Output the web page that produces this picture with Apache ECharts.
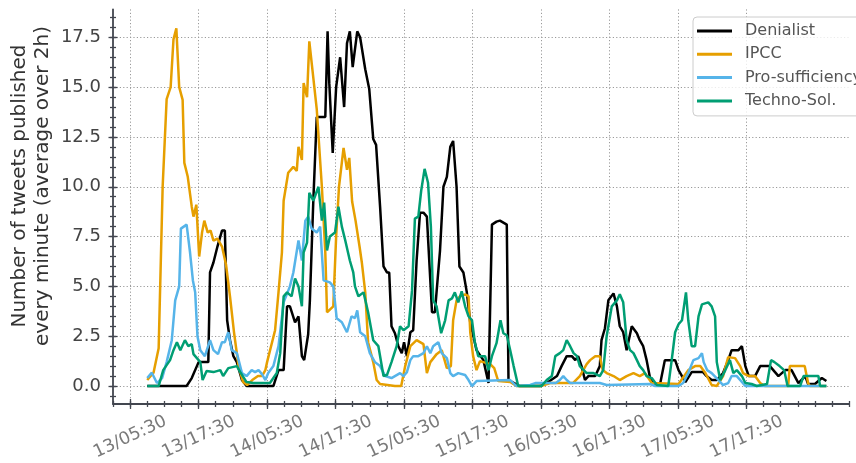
<!DOCTYPE html>
<html>
<head>
<meta charset="utf-8">
<script src="https://cdn.jsdelivr.net/npm/echarts@6/dist/echarts.min.js"></script>
<style>
html, body { margin: 0; padding: 0; background: #fff; }
#main { width: 856px; height: 463px; }
</style>
</head>
<body>
<div id="main"></div>
<script>
// x = hours after 13/05:30, y = tweets per minute (2h average)
var seriesNames = ['Denialist', 'IPCC', 'Pro-sufficiency', 'Techno-Sol.'];
var seriesColors = ['#000000', '#E69F00', '#56B4E9', '#009E73'];

var xMajorTicks = [0, 12, 24, 36, 48, 60, 72, 84, 96, 108];
var xTickLabels = ['13/05:30', '13/17:30', '14/05:30', '14/17:30', '15/05:30',
                   '15/17:30', '16/05:30', '16/17:30', '17/05:30', '17/17:30'];
var yMajorTicks = [0, 2.5, 5, 7.5, 10, 12.5, 15, 17.5];

var denialist = [
  [3,0],[9.9,0],[10.8,0.4],[12.0,1.2],[13.7,1.2],[14.0,5.7],[14.6,6.2],[15.3,7.0],[16.1,7.8],[16.6,7.8],
  [17.0,3.3],[17.5,2.3],[18.1,1.5],[18.7,1.2],[19.6,0.3],[20.4,0],[25.1,0],[26.0,0.8],[26.9,0.8],[27.5,4.0],
  [28.0,4.0],[28.9,3.2],[29.5,3.5],[30.1,1.5],[30.5,1.3],[31.2,2.6],[31.5,4.3],[32.1,9.3],[32.7,13.5],[34.2,13.5],
  [34.6,17.8],[34.9,15.2],[35.5,11.7],[36.1,15.0],[36.8,16.5],[37.5,14.0],[38.0,17.2],[38.5,17.8],[39.0,16.0],[39.8,17.8],
  [40.3,17.5],[41.2,15.9],[41.9,14.9],[42.6,12.4],[43.1,12.1],[43.8,9.0],[44.4,6.0],[45.0,5.7],[45.4,5.7],[45.8,3.0],
  [46.4,2.65],[47.0,2.0],[47.6,1.65],[48.0,2.2],[48.5,1.5],[49.1,2.7],[49.6,2.8],[50.2,6.3],[50.8,8.7],[51.4,8.7],
  [52.0,8.5],[52.9,3.7],[53.4,3.7],[54.3,6.8],[54.9,10.0],[55.5,10.5],[56.1,12.0],[56.6,12.3],[57.2,10.0],[57.7,6.0],
  [58.4,5.7],[59.0,4.7],[59.6,3.2],[60.7,1.8],[61.9,1.3],[62.8,0.15],[63.4,8.1],[64.2,8.25],[64.8,8.3],[66.0,8.1],
  [66.3,0.3],[67.6,0.1],[68.3,0],[71.8,0],[73.0,0.15],[74.8,0.5],[75.6,1.0],[76.5,1.5],[77.4,1.5],[78.0,1.3],
  [78.5,1.5],[79.1,1.0],[79.7,0.3],[80.3,0.5],[81.5,0.5],[82.3,1.0],[82.6,2.3],[83.2,2.9],[83.8,4.3],[84.7,4.65],
  [85.3,4.0],[85.8,3.0],[86.4,2.7],[87.0,1.8],[87.9,3.0],[88.8,2.65],[89.3,2.3],[89.9,2.0],[90.5,1.3],[91.1,0.4],
  [92.0,0.05],[92.9,0.15],[93.7,1.3],[95.5,1.3],[96.1,0.8],[97.3,0.2],[98.4,0.7],[100.4,0.7],[101.0,0.5],[101.9,0.3],
  [102.8,0.3],[103.9,0.65],[104.8,1.3],[105.4,1.8],[106.6,1.8],[107.2,2.0],[107.8,1.0],[108.4,0.5],[109.5,0.5],[110.4,1.0],
  [112.1,1.0],[113.0,0.7],[113.6,0.5],[114.8,0.8],[115.9,0.8],[117.1,0.15],[118.3,0.5],[118.8,0.1],[120.0,0.1],[121.2,0.4],
  [122.0,0.25]
];

var ipcc = [
  [3,0.3],[4.1,0.67],[5.0,1.9],[5.7,10.0],[6.4,14.4],[7.1,15.0],[7.6,17.4],[8.1,17.95],[8.6,15.0],[9.2,14.36],
  [9.5,11.2],[10.1,10.5],[10.8,9.0],[11.1,8.5],[11.6,9.1],[12.1,6.5],[12.6,7.7],[13.0,8.3],[13.6,7.7],[14.1,7.8],
  [14.6,7.3],[15.3,7.4],[16.1,7.0],[16.8,6.1],[17.5,4.5],[18.2,2.7],[19.0,1.0],[19.8,0.2],[20.5,0.05],[21.4,0.3],
  [22.4,0.5],[23.1,0.5],[23.7,0.8],[24.0,1.2],[25.4,2.8],[26.0,4.7],[26.6,6.7],[26.9,9.3],[27.7,10.7],[28.6,11.0],
  [29.2,10.8],[29.5,12.0],[30.1,11.35],[30.4,15.2],[31.0,14.5],[31.4,17.3],[32.7,13.9],[33.6,10.0],[34.2,6.7],[34.5,3.7],
  [35.6,4.0],[36.1,7.5],[36.6,10.0],[37.4,11.95],[38.0,10.85],[38.4,11.45],[38.9,9.26],[39.5,8.3],[40.2,7.0],[40.6,6.2],
  [41.2,4.7],[41.7,2.2],[42.6,1.2],[43.2,0.3],[43.8,0.1],[46.4,0],[47.5,0],[48.2,1.0],[49.1,2.0],[50.2,2.3],
  [51.4,2.1],[52.0,0.65],[52.6,1.2],[53.7,1.6],[54.6,1.8],[55.5,0.9],[56.2,1.0],[56.6,3.3],[57.2,4.3],[57.8,4.5],
  [58.7,4.6],[59.3,4.5],[59.6,2.7],[60.1,1.5],[60.7,0.8],[61.3,1.25],[61.9,1.2],[63.1,1.1],[63.8,0.9],[64.5,0.25],
  [66.6,0.2],[67.7,0],[72.0,0],[73.6,0.15],[77.6,0.15],[78.8,0.5],[80.0,1.1],[80.6,1.3],[81.5,1.5],[82.3,1.5],
  [82.8,0.8],[83.5,0.65],[84.7,0.5],[85.8,0.3],[87.0,0.5],[88.2,0.65],[89.3,0.5],[90.2,0.65],[91.4,0.15],[96.1,0.1],
  [97.8,0.8],[99.0,1.0],[99.9,1.0],[100.8,0.65],[101.9,0.05],[102.8,0],[103.9,0.5],[104.8,1.45],[106.0,1.4],[106.9,1.0],
  [107.4,0.65],[108.4,0.5],[109.5,0.5],[110.4,0.15],[111.2,0],[115.3,0],[115.6,1.0],[118.2,1.0],[118.8,0.15],[119.1,0],
  [122.0,0]
];

var proSufficiency = [
  [3,0.4],[3.8,0.67],[4.7,0.15],[5.6,0.4],[6.4,1.2],[7.3,2.3],[7.9,4.3],[8.6,5.0],[8.9,7.9],[9.9,8.1],
  [10.5,6.7],[11.0,5.3],[11.4,4.7],[11.8,2.5],[12.3,1.8],[13.1,1.5],[14.0,2.3],[14.6,1.8],[15.4,1.6],[16.1,2.2],
  [16.6,2.2],[17.2,2.7],[17.8,1.8],[18.7,1.65],[19.6,0.65],[20.4,0.5],[21.3,0.8],[21.9,0.7],[22.5,0.8],[23.1,0.6],
  [23.7,0.3],[24.2,0.65],[25.1,1.0],[26.0,2.0],[26.9,4.2],[28.0,5.0],[28.6,5.7],[29.5,7.3],[30.1,6.3],[30.7,8.3],
  [31.2,8.5],[31.8,7.9],[32.7,7.7],[33.3,8.0],[33.9,5.3],[35.0,5.2],[35.6,5.0],[36.2,3.4],[37.1,3.2],[38.0,2.7],
  [38.8,3.5],[39.4,3.4],[39.8,3.8],[40.3,2.7],[41.2,2.5],[42.0,1.65],[42.9,1.2],[43.8,1.0],[44.7,0.5],[45.8,0.4],
  [46.7,0.55],[47.3,0.65],[47.9,0.5],[48.5,0.7],[49.1,1.3],[49.6,1.5],[50.5,1.5],[51.4,1.65],[52.0,2.0],[52.6,1.65],
  [53.1,2.0],[54.0,2.2],[54.6,1.65],[55.5,1.4],[56.1,0.65],[56.6,0.5],[57.5,0.65],[58.7,0.55],[59.3,0.3],[59.9,0],
  [60.7,0.25],[66.6,0.3],[67.7,0],[70.1,0.05],[71.0,0.15],[74.6,0.15],[75.3,0.3],[75.9,0.5],[76.5,0.3],[77.1,0.15],
  [82.3,0.15],[83.5,0.05],[91.1,0.1],[92.0,0],[96.1,0],[96.9,0.15],[97.8,0.65],[98.7,1.3],[99.6,1.4],[100.2,1.65],
  [100.5,1.2],[101.1,0.8],[101.9,0.65],[103.1,0.3],[103.9,0.05],[104.8,0.15],[105.4,0.5],[106.3,0.5],[107.2,0.2],[107.8,0],
  [122.0,0]
];

var technoSol = [
  [3,0],[5.0,0],[5.8,0.8],[6.4,1.05],[7.0,1.3],[7.6,1.8],[8.2,2.2],[8.8,1.8],[9.6,2.3],[10.2,2.0],
  [10.8,2.1],[11.1,1.6],[11.7,1.4],[12.3,1.2],[12.7,0.3],[13.4,0.75],[14.6,0.7],[15.8,0.8],[16.3,0.5],[17.2,0.9],
  [18.7,1.0],[19.3,0.7],[20.4,0.2],[21.6,0.15],[24.5,0.15],[25.7,0.65],[26.3,1.65],[26.9,4.5],[27.5,4.7],[28.3,4.5],
  [28.9,5.4],[29.5,5.0],[30.1,4.0],[30.4,6.7],[31.0,7.2],[31.4,9.7],[32.1,9.3],[33.0,10.0],[33.6,8.3],[34.0,9.2],
  [34.5,6.8],[35.0,7.5],[35.9,7.7],[36.5,9.0],[37.1,8.0],[37.7,7.3],[38.5,6.3],[39.1,5.7],[39.4,5.0],[40.0,4.5],
  [40.9,4.7],[41.7,3.7],[42.6,2.3],[43.5,2.0],[44.4,0.5],[45.0,0.55],[45.8,1.2],[46.7,2.0],[47.3,3.0],[47.9,2.8],
  [48.8,3.0],[49.4,4.8],[49.9,8.4],[50.5,8.5],[51.0,9.8],[51.6,10.9],[52.2,10.2],[52.7,8.0],[53.1,4.3],[53.7,4.0],
  [54.5,2.65],[55.2,3.3],[55.8,4.3],[56.4,4.4],[56.9,4.7],[57.5,4.2],[58.1,4.75],[58.7,4.0],[59.3,3.5],[59.9,3.3],
  [60.4,2.2],[61.0,1.5],[62.2,1.5],[62.8,0.8],[63.4,1.5],[64.2,2.15],[64.9,3.3],[65.4,2.65],[66.0,2.55],[66.6,1.8],
  [67.2,1.0],[68.0,0],[72.1,0],[73.0,0.3],[73.9,0.5],[74.5,1.5],[75.3,1.65],[75.9,1.8],[76.5,2.3],[77.1,2.0],
  [77.7,1.65],[78.3,1.5],[78.8,1.0],[80.0,0.65],[81.2,0.65],[82.3,0.5],[82.9,0.8],[83.5,2.5],[84.4,4.0],[85.3,4.3],
  [85.8,4.6],[86.4,4.2],[87.0,2.3],[87.6,1.8],[88.2,1.65],[88.8,1.3],[89.3,1.0],[89.9,0.8],[90.5,0.5],[91.4,0.4],
  [92.3,0.05],[94.3,0],[94.9,1.3],[95.5,2.7],[96.1,3.1],[96.7,3.3],[97.4,4.7],[97.8,3.3],[98.4,2.0],[99.0,2.0],
  [99.6,3.5],[100.2,4.1],[101.3,4.2],[101.9,4.0],[102.5,3.5],[102.8,1.2],[103.4,0.3],[104.3,0.8],[105.1,1.3],[105.7,0.65],
  [106.3,0.8],[107.2,0.5],[107.8,0.15],[108.9,0.1],[109.8,0],[111.6,0.1],[112.3,1.3],[112.9,1.2],[113.8,1.0],[114.6,0.8],
  [115.2,0],[117.4,0],[118.0,0.5],[120.6,0.5],[120.9,0],[122.0,0]
];

var seriesData = [denialist, ipcc, proSufficiency, technoSol];

var xMinorTicks = [];
for (var t = -3; t <= 126; t += 3) xMinorTicks.push(t);
var yMinorTicks = [];
for (var v = -0.5; v <= 18.5001; v += 0.5) yMinorTicks.push(Math.round(v * 10) / 10);

var AX = '#42464f';
var FONT = 'DejaVu Sans';

function tickAxis(base, ticks, len, inside) {
  return {
    type: 'value', gridIndex: 0, position: base.position,
    min: base.min, max: base.max,
    axisLine: {show: false, onZero: false},
    axisLabel: {show: false},
    splitLine: {show: false},
    axisTick: {show: true, inside: inside, length: len, customValues: ticks,
               lineStyle: {color: AX, width: 1.3}}
  };
}

var xBase = {position: 'bottom', min: -3, max: 126};
var yBase = {position: 'left', min: -0.9, max: 18.9};

var myChart = echarts.init(document.getElementById('main'));
var opt = {
  animation: false,
  backgroundColor: '#ffffff',
  grid: {left: 113, right: 6.8, top: 9.4, bottom: 58.8, containLabel: false},
  xAxis: [
    {
      type: 'value', position: 'bottom', min: -3, max: 126,
      axisLine: {show: true, onZero: false, lineStyle: {color: AX, width: 1.8}},
      axisTick: {show: true, length: 5, customValues: xMajorTicks, lineStyle: {color: AX, width: 1.3}},
      axisLabel: {
        show: true, customValues: xMajorTicks, rotate: 25, align: 'center', verticalAlign: 'middle',
        margin: 33, fontSize: 17.5, color: '#7a7a7a', fontFamily: FONT,
        formatter: function (val) {
          var i = xMajorTicks.indexOf(val);
          return i >= 0 ? xTickLabels[i] : '';
        }
      },
      splitLine: {show: true, lineStyle: {color: '#9a9a9a', width: 1, type: [1.2, 2.2]}}
    },
    tickAxis(xBase, xMajorTicks, 5, true),
    tickAxis(xBase, xMinorTicks, 3, false),
    tickAxis(xBase, xMinorTicks, 3, true)
  ],
  yAxis: [
    {
      type: 'value', position: 'left', min: -0.9, max: 18.9,
      axisLine: {show: true, onZero: false, lineStyle: {color: AX, width: 1.8}},
      axisTick: {show: true, length: 4.5, customValues: yMajorTicks, lineStyle: {color: AX, width: 1.3}},
      axisLabel: {
        show: true, customValues: yMajorTicks, margin: 12, fontSize: 18, color: '#444', fontFamily: FONT,
        formatter: function (val) { return val.toFixed(1); }
      },
      splitLine: {show: true, lineStyle: {color: '#9a9a9a', width: 1, type: [1.2, 2.2]}}
    },
    tickAxis(yBase, yMajorTicks, 4.5, true),
    tickAxis(yBase, yMinorTicks, 3, false),
    tickAxis(yBase, yMinorTicks, 3, true)
  ],
  legend: {
    data: seriesNames,
    orient: 'vertical',
    left: 693, top: 17,
    icon: 'rect', itemWidth: 35, itemHeight: 3, itemGap: 5.3,
    padding: [5, 30, 6, 4],
    borderColor: '#cccccc', borderWidth: 1, borderRadius: 4,
    backgroundColor: 'rgba(255,255,255,0.8)',
    textStyle: {fontSize: 16, color: '#555', fontFamily: FONT, lineHeight: 18, padding: [0, 0, 0, 8]}
  },
  graphic: [{
    type: 'text', x: 31.5, y: 186, rotation: Math.PI / 2,
    style: {
      text: 'Number of tweets published\nevery minute (average over 2h)',
      font: '20px "DejaVu Sans"', fill: '#333', textAlign: 'center', textVerticalAlign: 'middle',
      lineHeight: 23
    }
  }],
  series: seriesNames.map(function (name, i) {
    return {
      name: name, type: 'line', xAxisIndex: 0, yAxisIndex: 0,
      data: seriesData[i], symbol: 'none', showSymbol: false,
      color: seriesColors[i],
      lineStyle: {color: seriesColors[i], width: 2.5},
      z: 2 + i
    };
  })
};
myChart.setOption(opt);
</script>
</body>
</html>
